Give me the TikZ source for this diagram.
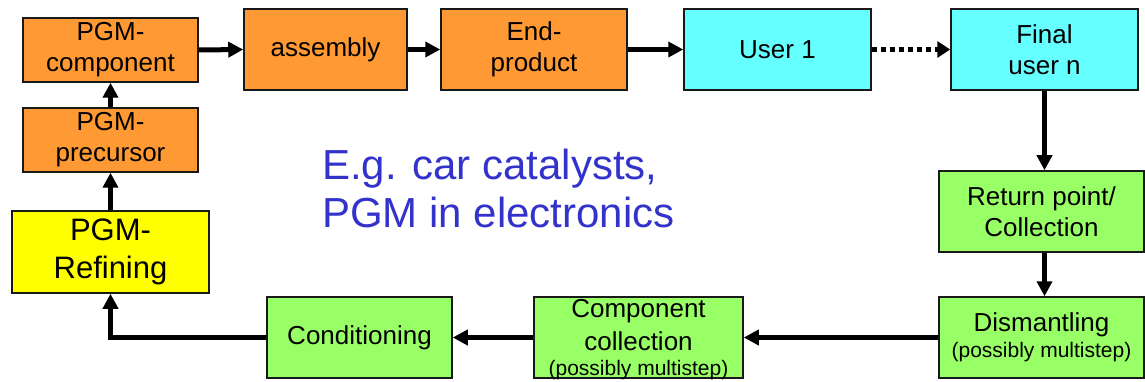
\documentclass[tikz,border=0pt]{standalone}
\usepackage{fontspec}
\setmainfont{Liberation Sans}
\usetikzlibrary{arrows.meta}
\definecolor{pgmorange}{RGB}{255,153,51}
\definecolor{usercyan}{RGB}{102,255,255}
\definecolor{recgreen}{RGB}{153,255,102}
\definecolor{refyellow}{RGB}{255,255,0}
\definecolor{noteblue}{RGB}{51,51,204}
\definecolor{edge}{RGB}{25,25,25}
\begin{document}
\begin{tikzpicture}[x=1pt,y=-1pt,
  box/.style={draw=edge, line width=1.5pt, inner sep=0pt, align=center,
    font=\fontsize{26}{31}\selectfont},
  orangebox/.style={box, fill=pgmorange},
  cyanbox/.style={box, fill=usercyan},
  greenbox/.style={box, fill=recgreen},
  flow/.style={line width=5pt, -{Triangle[length=15pt,width=15pt]}},
  dottedflow/.style={line width=5pt, dash pattern=on 5pt off 4pt,
    -{Triangle[length=13pt,width=16pt]}},
  small/.style={font=\fontsize{21}{25}\selectfont},
  note/.style={text=noteblue, font=\fontsize{42}{47}\selectfont, inner sep=0pt}
]
\useasboundingbox (0,0) rectangle (1145,382);

% production chain (top row and left column)
\node[orangebox, minimum width=175pt, minimum height=64pt] (comp) at (110.5,50)
  {PGM-\\component};
\node[orangebox, minimum width=175pt, minimum height=64pt] (prec) at (110.5,140)
  {PGM-\\precursor};
\node[box, fill=refyellow, minimum width=197pt, minimum height=82pt,
  font=\fontsize{31}{38}\selectfont] (ref) at (110.5,252) {PGM-\\Refining};
\node[orangebox, minimum width=163pt, minimum height=81pt] (asm) at (325.5,49.5)
  {assembly};
\node[orangebox, minimum width=186pt, minimum height=81pt] (endp) at (534,49.5)
  {End-\\product};
\node[cyanbox, minimum width=187pt, minimum height=81pt] (user1) at (777.5,49.5)
  {User 1};
\node[cyanbox, minimum width=187pt, minimum height=81pt] (final) at (1044.5,49.5)
  {Final\\user n};

% recycling chain (right column and bottom row)
\node[greenbox, minimum width=205pt, minimum height=81pt] (ret) at (1041.5,211.5)
  {Return point/\\Collection};
\node[greenbox, minimum width=205pt, minimum height=81pt] (dism) at (1041.5,337.5)
  {Dismantling\\[-5pt]{\fontsize{21}{25}\selectfont(possibly multistep)}};
\node[greenbox, minimum width=209pt, minimum height=81pt] (cc) at (638.5,337.5) {};
\node[anchor=base, inner sep=0pt, font=\fontsize{26}{31}\selectfont] (cc1)
  at (638.5,317) {Component};
\node[anchor=base, inner sep=0pt, font=\fontsize{26}{31}\selectfont] (cc2)
  at (638.5,350) {collection};
\node[anchor=base, inner sep=0pt, small] (cc3) at (638.5,375) {(possibly multistep)};
\node[greenbox, minimum width=185pt, minimum height=81pt] (cond) at (359.5,337.5)
  {Conditioning};

% example note
\node[note, anchor=base west] (eg1) at (322,180) {E.g. car catalysts,};
\node[note, anchor=base west] (eg2) at (322,227) {PGM in electronics};

% connectors
\draw[flow] (comp.east) -- (asm.west);
\draw[flow] (asm.east) -- (endp.west);
\draw[flow] (endp.east) -- (user1.west);
\draw[dottedflow] (user1.east) -- (final.west);
\draw[flow] (final.south) -- (final.south |- ret.north);
\draw[flow] (final.south |- ret.south) -- (final.south |- dism.north);
\draw[flow] (dism.west) -- (cc.east);
\draw[flow] (cc.west) -- (cond.east);
\draw[flow] (cond.west) -| (ref.south);
\draw[flow] (ref.north) -- (prec.south);
\draw[flow] (prec.north) -- (comp.south);
\end{tikzpicture}
\end{document}
